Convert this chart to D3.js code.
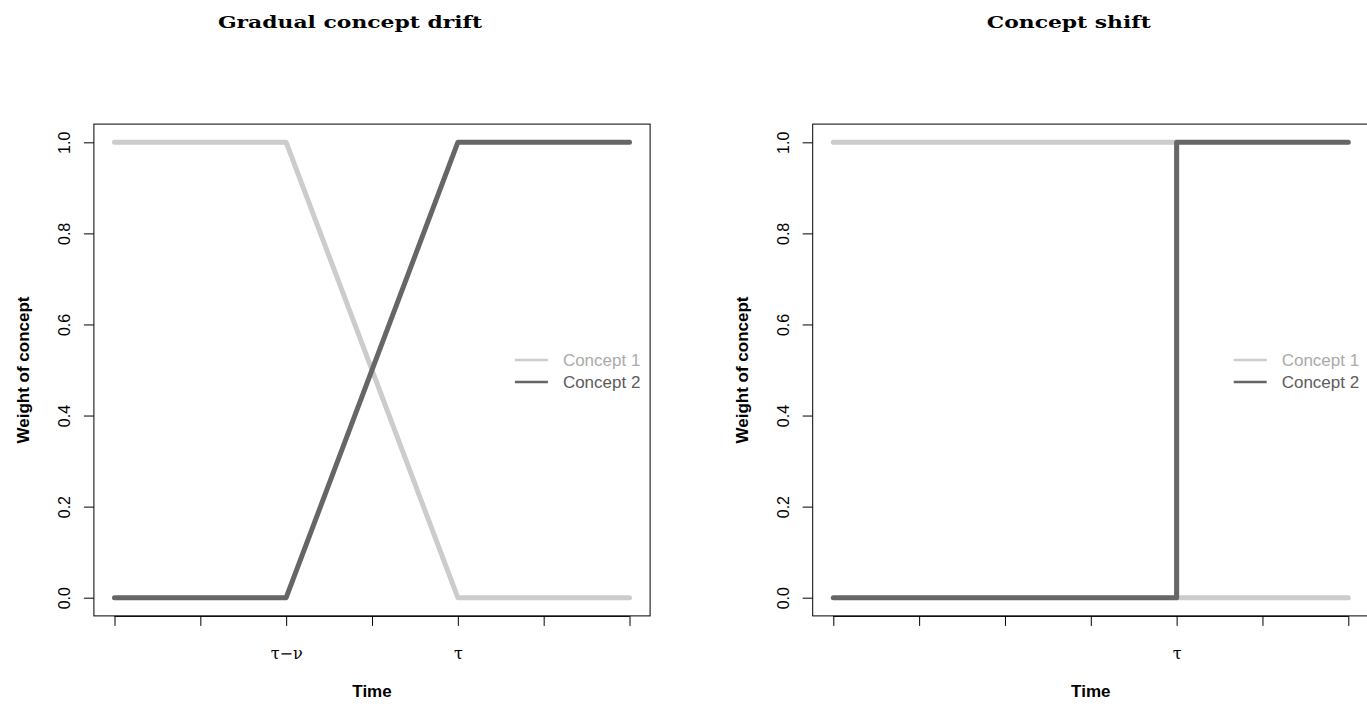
<!DOCTYPE html>
<html>
<head>
<meta charset="utf-8">
<script src="https://cdn.jsdelivr.net/npm/d3@7"></script>
<style>
  body { margin: 0; background: #fff; }
  svg { display: block; }
</style>
</head>
<body>
<svg id="chart" width="1367" height="708"></svg>
<script>
// Weights of two concepts over time: a gradual drift and an abrupt shift
const gradualTime = [0, 2, 4, 6];
const gradualConcept1 = [1, 1, 0, 0];
const gradualConcept2 = [0, 0, 1, 1];

const shiftTime = [0, 4, 4, 6];
const shiftConcept1 = [1, 1, 0, 0];
const shiftConcept2 = [0, 0, 1, 1];

const xTicks = [0, 1, 2, 3, 4, 5, 6];
const gradualTickLabels = ["", "", "\u03C4\u2212\u03BD", "", "\u03C4", "", ""];
const shiftTickLabels = ["", "", "", "", "\u03C4", "", ""];
const yTicks = [0, 0.2, 0.4, 0.6, 0.8, 1.0];

const seriesNames = ["Concept 1", "Concept 2"];
const lineColors = ["#cccccc", "#666666"];
const legendTextColors = ["#aaaaaa", "#5c5c5c"];

const panels = [
  { title: "Gradual concept drift", time: gradualTime, c1: gradualConcept1, c2: gradualConcept2, labels: gradualTickLabels, left: 93.9 },
  { title: "Concept shift", time: shiftTime, c1: shiftConcept1, c2: shiftConcept2, labels: shiftTickLabels, left: 812.7 }
];

const svg = d3.select("#chart");
const plotW = 556.2, plotTop = 124.1, plotBottom = 615.9;
const sans = "'Liberation Sans', Arial, Helvetica, sans-serif";
const serif = "'DejaVu Serif', 'Liberation Serif', serif";

panels.forEach(p => {
  const x = d3.scaleLinear().domain([-0.24, 6.24]).range([p.left, p.left + plotW]);
  const y = d3.scaleLinear().domain([-0.04, 1.04]).range([plotBottom, plotTop]);
  const g = svg.append("g");

  // y axis with rotated labels
  const ya = g.append("g").attr("transform", `translate(${p.left},0)`)
    .call(d3.axisLeft(y).tickValues(yTicks).tickSize(10).tickSizeOuter(0).tickFormat(d3.format(".1f")));
  ya.select(".domain").remove();
  ya.selectAll(".tick line").attr("stroke", "#000");
  ya.selectAll(".tick text")
    .attr("transform", "rotate(-90)").attr("x", 0).attr("y", -23.5).attr("dy", 0)
    .style("text-anchor", "middle").style("font-family", sans).style("font-size", "16px").attr("fill", "#000");

  // x axis
  const xa = g.append("g").attr("transform", `translate(0,${plotBottom})`)
    .call(d3.axisBottom(x).tickValues(xTicks).tickSize(10).tickSizeOuter(0).tickFormat(i => p.labels[i]));
  xa.select(".domain").attr("d", `M${x(0)},0.5H${x(6)}`).attr("stroke", "#000");
  xa.selectAll(".tick line").attr("stroke", "#000");
  xa.selectAll(".tick text").attr("y", 43).attr("dy", 0)
    .style("font-family", serif).style("font-size", "16px").attr("fill", "#000");

  // data lines
  const line = d3.line().x((d, i) => x(p.time[i])).y(d => y(d));
  [p.c1, p.c2].forEach((vals, k) => {
    g.append("path").datum(vals).attr("d", line)
      .attr("fill", "none").attr("stroke", lineColors[k]).attr("stroke-width", 5)
      .attr("stroke-linecap", "round").attr("stroke-linejoin", "round");
  });

  // plot frame
  g.append("rect").attr("x", p.left).attr("y", plotTop).attr("width", plotW).attr("height", plotBottom - plotTop)
    .attr("fill", "none").attr("stroke", "#000").attr("stroke-width", 1);

  // legend
  seriesNames.forEach((name, k) => {
    const ly = 360 + k * 22;
    g.append("line").attr("x1", p.left + 421).attr("x2", p.left + 454).attr("y1", ly).attr("y2", ly)
      .attr("stroke", lineColors[k]).attr("stroke-width", 2.5);
    g.append("text").attr("x", p.left + 469).attr("y", ly + 6).text(name)
      .style("font-family", sans).style("font-size", "17px").attr("fill", legendTextColors[k]);
  });

  // axis titles
  g.append("text").attr("x", p.left + plotW / 2).attr("y", 697).attr("text-anchor", "middle")
    .style("font-family", sans).style("font-weight", "bold").style("font-size", "17px").text("Time");
  g.append("text").attr("transform", `translate(${p.left - 65},${(plotTop + plotBottom) / 2}) rotate(-90)`)
    .attr("text-anchor", "middle")
    .style("font-family", sans).style("font-weight", "bold").style("font-size", "17px").text("Weight of concept");

  p.titleNode = g.append("text").attr("x", p.left + plotW / 2 - 22).attr("y", 28).attr("text-anchor", "middle")
    .style("font-family", serif).style("font-weight", "bold").style("font-size", "17px").text(p.title);
});

// widen titles to the wide bold serif proportions
const ref = panels[1].titleNode.node().getComputedTextLength();
const factor = 164 / ref;
panels.forEach(p => {
  const w = p.titleNode.node().getComputedTextLength() * factor;
  p.titleNode.attr("textLength", w).attr("lengthAdjust", "spacingAndGlyphs");
});
</script>
</body>
</html>
